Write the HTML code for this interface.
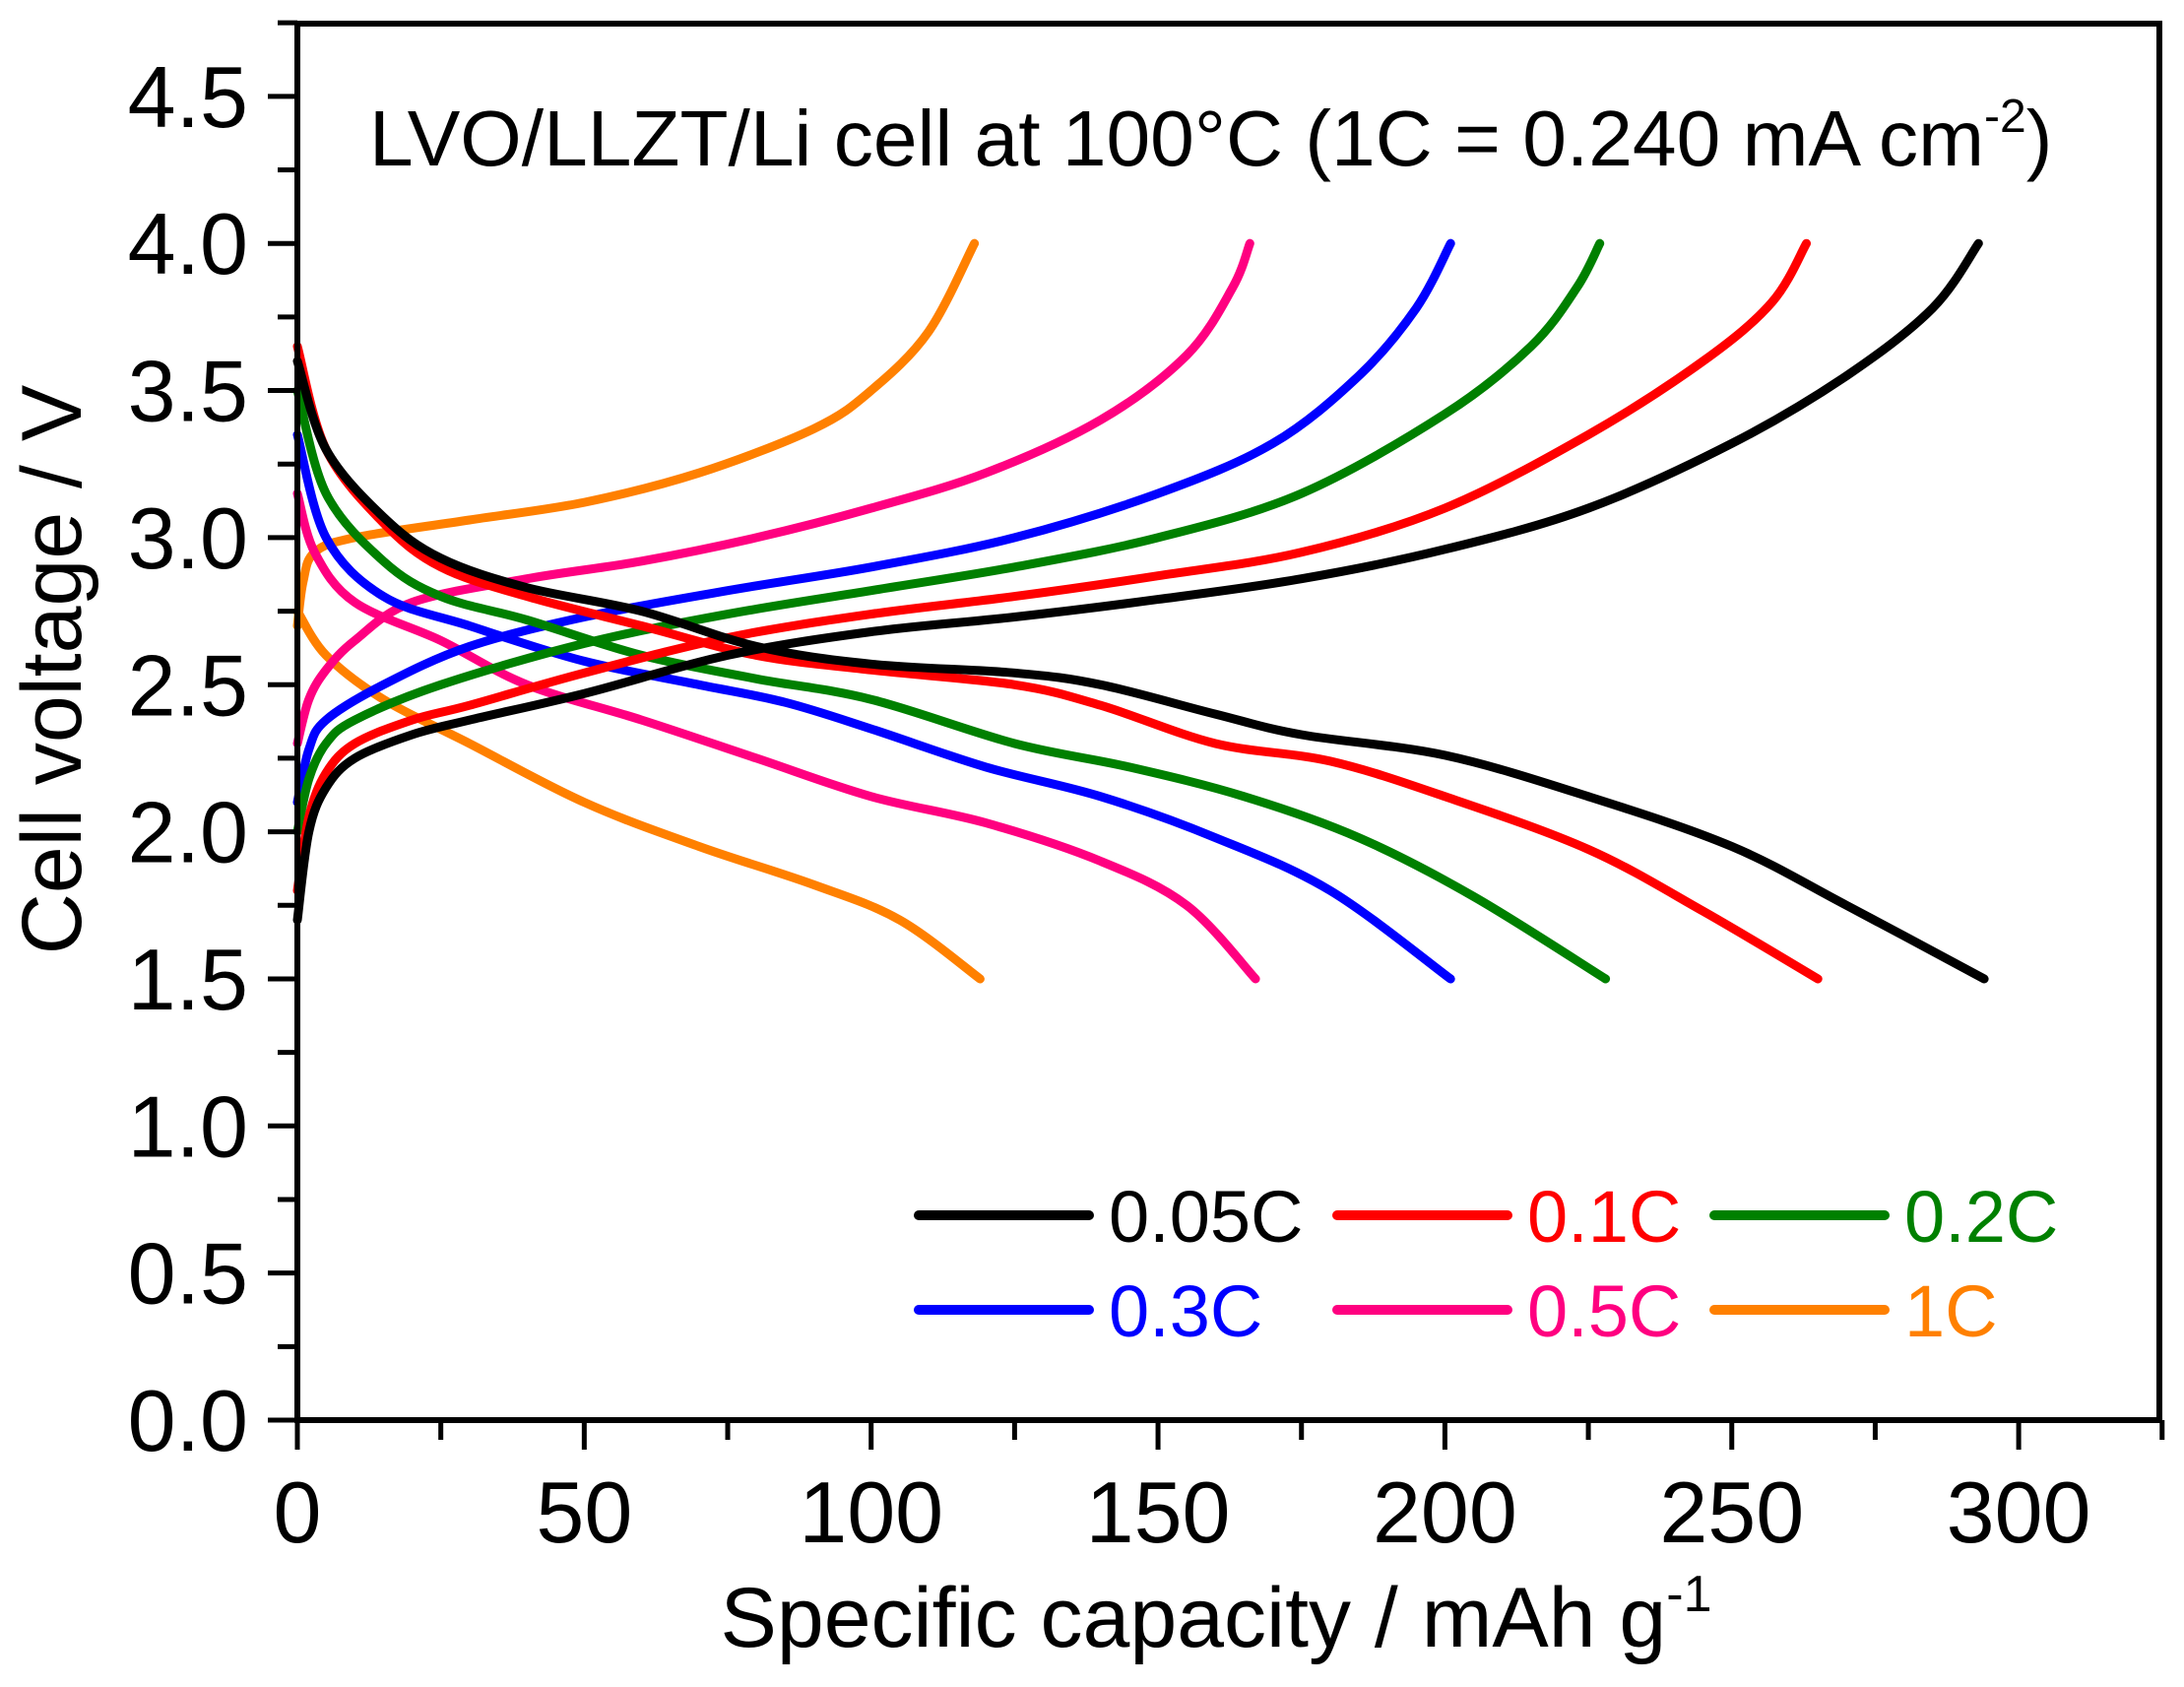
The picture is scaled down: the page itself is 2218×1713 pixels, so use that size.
<!DOCTYPE html>
<html><head><meta charset="utf-8"><style>
html,body{margin:0;padding:0;background:#fff}
svg text{font-family:"Liberation Sans",Arial,sans-serif}
</style></head><body>
<svg id="chart" width="2218" height="1708" viewBox="0 0 2218 1708" xmlns="http://www.w3.org/2000/svg">
<rect x="0" y="0" width="2218" height="1708" fill="#fff"/>
<g id="curves"></g>
<rect x="302" y="24" width="1891" height="1418" fill="none" stroke="#000" stroke-width="6"/>
<g id="axes"></g>
<text x="375" y="168" font-size="80"><tspan textLength="1640" lengthAdjust="spacingAndGlyphs">LVO/LLZT/Li cell at 100°C (1C = 0.240 mA cm</tspan><tspan dy="-34" font-size="48">-2</tspan><tspan dy="34">)</tspan></text>
<text x="1235" y="1672" font-size="86" text-anchor="middle">Specific capacity / mAh g<tspan dy="-36" font-size="52">-1</tspan></text>
<text transform="translate(82,680) rotate(-90)" font-size="86" text-anchor="middle">Cell voltage / V</text>
<g id="legend"></g>
</svg>
<script>
const NS="http://www.w3.org/2000/svg";
const seriesNames=["0.05C","0.1C","0.2C","0.3C","0.5C","1C"];
const seriesColors=["#000000","#ff0000","#008000","#0000ff","#ff0080","#ff8000"];
const chargeX=[
[0,2,5,10,20,30,50,75,100,125,150,175,200,225,250,270,285,293],
[0,2,5,10,20,30,50,75,100,125,150,175,200,225,245,257,263],
[0,2,5,10,25,50,75,100,125,150,175,200,215,223,227],
[0,2,5,15,30,50,75,100,125,150,170,185,195,201],
[0,2,5,10,20,40,60,80,100,120,140,155,163,166],
[0,1,3,10,30,50,70,90,100,110,118]];
const chargeV=[
[1.7,2.0,2.15,2.25,2.33,2.38,2.47,2.6,2.68,2.73,2.79,2.86,2.96,3.1,3.32,3.55,3.78,4.0],
[1.8,2.05,2.2,2.3,2.38,2.43,2.54,2.66,2.74,2.8,2.87,2.95,3.1,3.35,3.6,3.8,4.0],
[2.0,2.18,2.3,2.38,2.5,2.64,2.74,2.82,2.9,3.0,3.15,3.42,3.65,3.85,4.0],
[2.1,2.28,2.38,2.5,2.63,2.73,2.82,2.9,3.0,3.15,3.32,3.55,3.78,4.0],
[2.3,2.45,2.55,2.65,2.78,2.86,2.92,3.0,3.1,3.22,3.4,3.62,3.85,4.0],
[2.7,2.85,2.95,3.0,3.06,3.12,3.22,3.37,3.5,3.7,4.0]];
const dischargeX=[
[0,5,15,25,40,60,80,100,125,140,160,175,200,225,250,270,294],
[0,5,15,25,40,60,80,100,125,140,160,180,200,225,245,265],
[0,5,15,25,40,60,80,100,125,145,165,185,205,228],
[0,5,15,30,50,70,85,100,120,140,160,180,201],
[0,3,10,25,40,60,80,100,120,140,155,167],
[0,5,15,30,50,70,90,105,119]];
const dischargeV=[
[3.6,3.3,3.07,2.93,2.83,2.75,2.63,2.57,2.54,2.5,2.4,2.33,2.26,2.12,1.95,1.75,1.5],
[3.65,3.3,3.05,2.9,2.8,2.7,2.6,2.55,2.5,2.43,2.3,2.24,2.12,1.94,1.73,1.5],
[3.5,3.15,2.92,2.8,2.72,2.6,2.52,2.45,2.3,2.22,2.12,1.98,1.78,1.5],
[3.35,3.0,2.8,2.7,2.58,2.5,2.44,2.35,2.22,2.12,1.98,1.8,1.5],
[3.15,2.95,2.78,2.65,2.5,2.38,2.25,2.12,2.03,1.9,1.75,1.5],
[2.75,2.6,2.45,2.3,2.1,1.95,1.82,1.7,1.5]];
const xTicks=[0,50,100,150,200,250,300];
const yTicks=[0,0.5,1.0,1.5,2.0,2.5,3.0,3.5,4.0,4.5];
const yTickLabels=["0.0","0.5","1.0","1.5","2.0","2.5","3.0","3.5","4.0","4.5"];

const X0=302,XS=5.827,Y0=1442,YS=298.7;
const sx=v=>X0+v*XS, sy=v=>Y0-v*YS;

function pathFrom(xs,vs){
  const p=xs.map((x,i)=>[sx(x),sy(vs[i])]);
  let d="M"+p[0][0].toFixed(1)+","+p[0][1].toFixed(1);
  for(let i=0;i<p.length-1;i++){
    const a=p[i-1]||p[i],b=p[i],c=p[i+1],e=p[i+2]||c;
    const c1=[b[0]+(c[0]-a[0])/6,b[1]+(c[1]-a[1])/6];
    const c2=[c[0]-(e[0]-b[0])/6,c[1]-(e[1]-b[1])/6];
    d+=" C"+c1[0].toFixed(1)+","+c1[1].toFixed(1)+" "+c2[0].toFixed(1)+","+c2[1].toFixed(1)+" "+c[0].toFixed(1)+","+c[1].toFixed(1);
  }
  return d;
}
const cg=document.getElementById("curves");
for(let s=seriesNames.length-1;s>=0;s--){
  ["charge","discharge"].forEach(kind=>{
    const el=document.createElementNS(NS,"path");
    el.setAttribute("d",kind==="charge"?pathFrom(chargeX[s],chargeV[s]):pathFrom(dischargeX[s],dischargeV[s]));
    el.setAttribute("fill","none");
    el.setAttribute("stroke",seriesColors[s]);
    el.setAttribute("stroke-width","9");
    el.setAttribute("stroke-linecap","round");
    el.setAttribute("stroke-linejoin","round");
    
    
    cg.appendChild(el);
  });
}
const ax=document.getElementById("axes");
function line(x1,y1,x2,y2,w){const l=document.createElementNS(NS,"line");l.setAttribute("x1",x1);l.setAttribute("y1",y1);l.setAttribute("x2",x2);l.setAttribute("y2",y2);l.setAttribute("stroke","#000");l.setAttribute("stroke-width",w);return l;}
for(let v=0;v<=325;v+=25){
  const maj=v%50===0;
  const t=line(sx(v),Y0,sx(v),Y0+(maj?30:20),5);
  
  
  ax.appendChild(t);
}
xTicks.forEach(v=>{
  const t=document.createElementNS(NS,"text");
  t.setAttribute("x",sx(v));t.setAttribute("y",Y0+124);t.setAttribute("font-size","88");t.setAttribute("text-anchor","middle");
  t.textContent=String(v);
  
  
  ax.appendChild(t);
});
for(let i=0;i<=19;i++){
  const v=i*0.25, maj=i%2===0;
  const t=line(X0,sy(v),X0-(maj?30:20),sy(v),5);
  
  
  ax.appendChild(t);
}
yTicks.forEach((v,i)=>{
  const t=document.createElementNS(NS,"text");
  t.setAttribute("x",252);t.setAttribute("y",sy(v)+31);t.setAttribute("font-size","88");t.setAttribute("text-anchor","end");
  t.textContent=yTickLabels[i];
  
  
  ax.appendChild(t);
});
const lg=document.getElementById("legend");
const colX=[933,1358,1741], rowY=[1234,1330];
seriesNames.forEach((n,i)=>{
  const cx=colX[i%3], cy=rowY[Math.floor(i/3)];
  const l=line(cx,cy,cx+173,cy,10);
  l.setAttribute("stroke",seriesColors[i]);l.setAttribute("stroke-linecap","round");
  
  
  lg.appendChild(l);
  const t=document.createElementNS(NS,"text");
  t.setAttribute("x",cx+193);t.setAttribute("y",cy+27);t.setAttribute("font-size","74");t.setAttribute("fill",seriesColors[i]);
  t.textContent=n;
  
  
  lg.appendChild(t);
});
</script>
</body></html>
